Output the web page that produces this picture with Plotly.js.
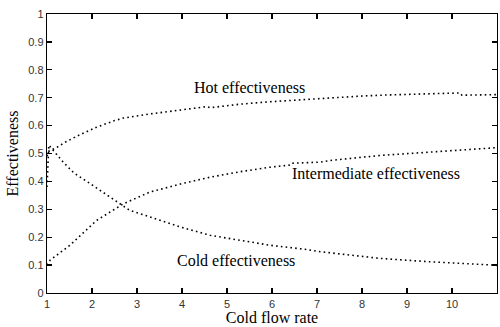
<!DOCTYPE html>
<html>
<head>
<meta charset="utf-8">
<script src="https://cdn.plot.ly/plotly-3.0.1.min.js"></script>
<style>html,body{margin:0;padding:0;background:#fff;}#chart{width:500px;height:327px;}</style>
</head>
<body>
<div id="chart"></div>
<script>
const hotX = [1.0, 1.05, 1.2, 1.4, 1.7, 2.1, 2.5, 2.7, 3.3, 4.0, 4.55, 4.62, 5.3, 6.0, 7.0, 8.0, 8.6, 9.5, 10.18, 10.22, 11];
const hotY = [0.49, 0.51, 0.52, 0.54, 0.565, 0.594, 0.618, 0.627, 0.642, 0.657, 0.668, 0.664, 0.677, 0.686, 0.697, 0.706, 0.71, 0.713, 0.717, 0.709, 0.711];

const coldX = [1.0, 1.01, 1.02, 1.04, 1.36, 1.6, 1.96, 2.47, 2.84, 3.25, 4.0, 4.62, 5.3, 5.96, 6.77, 7.07, 8.4, 9.5, 10.92, 11];
const coldY = [0.38, 0.44, 0.50, 0.53, 0.469, 0.43, 0.392, 0.338, 0.296, 0.275, 0.235, 0.207, 0.19, 0.171, 0.156, 0.148, 0.124, 0.112, 0.1, 0.099];

const interX = [1.0, 1.07, 1.51, 2.1, 2.7, 3.29, 4.0, 4.62, 5.3, 5.96, 6.38, 6.42, 7.07, 7.29, 8.4, 9.73, 10.92, 11];
const interY = [0.10, 0.118, 0.171, 0.26, 0.32, 0.362, 0.392, 0.415, 0.435, 0.451, 0.458, 0.465, 0.469, 0.475, 0.493, 0.508, 0.52, 0.521];

const xTicks = [1, 2, 3, 4, 5, 6, 7, 8, 9, 10, 11];
const yTicks = [0, 0.1, 0.2, 0.3, 0.4, 0.5, 0.6, 0.7, 0.8, 0.9, 1];
const yTickText = ['0', '0.1', '0.2', '0.3', '0.4', '0.5', '0.6', '0.7', '0.8', '0.9', '1'];

const labels = [
  {text: 'Hot effectiveness', x: 5.5, y: 0.736},
  {text: 'Intermediate effectiveness', x: 8.31, y: 0.43},
  {text: 'Cold effectiveness', x: 5.2, y: 0.118}
];

const lineStyle = {color: '#000', width: 1.6, dash: '1.6px,3.2px'};
const traces = [
  {x: hotX, y: hotY, mode: 'lines', line: lineStyle, hoverinfo: 'skip'},
  {x: interX, y: interY, mode: 'lines', line: lineStyle, hoverinfo: 'skip'},
  {x: coldX, y: coldY, mode: 'lines', line: lineStyle, hoverinfo: 'skip'}
];

const serif = 'Liberation Serif, Times New Roman, serif';
const axisCommon = {
  showline: true, linecolor: '#000', linewidth: 1.3, mirror: 'ticks',
  ticks: 'inside', ticklen: 5, tickwidth: 1.3, tickcolor: '#000',
  showgrid: false, zeroline: false,
  tickfont: {family: 'Liberation Sans, Arial, sans-serif', size: 11, color: '#333'}
};

const layout = {
  width: 500, height: 327,
  margin: {l: 47, r: 3, t: 14, b: 34},
  paper_bgcolor: '#fff', plot_bgcolor: '#fff',
  showlegend: false,
  xaxis: Object.assign({}, axisCommon, {
    range: [1, 11], tickvals: xTicks, ticktext: xTicks.map(String),
    title: {text: 'Cold flow rate', font: {family: serif, size: 16, color: '#000'}, standoff: 1}
  }),
  yaxis: Object.assign({}, axisCommon, {
    range: [0, 1], tickvals: yTicks, ticktext: yTickText,
    title: {text: 'Effectiveness', font: {family: serif, size: 16, color: '#000'}, standoff: 5}
  }),
  annotations: labels.map(l => ({
    text: l.text, x: l.x, y: l.y, xref: 'x', yref: 'y', showarrow: false,
    font: {family: serif, size: 16, color: '#000'}
  }))
};

Plotly.newPlot('chart', traces, layout, {staticPlot: true, displayModeBar: false});
</script>
</body>
</html>
